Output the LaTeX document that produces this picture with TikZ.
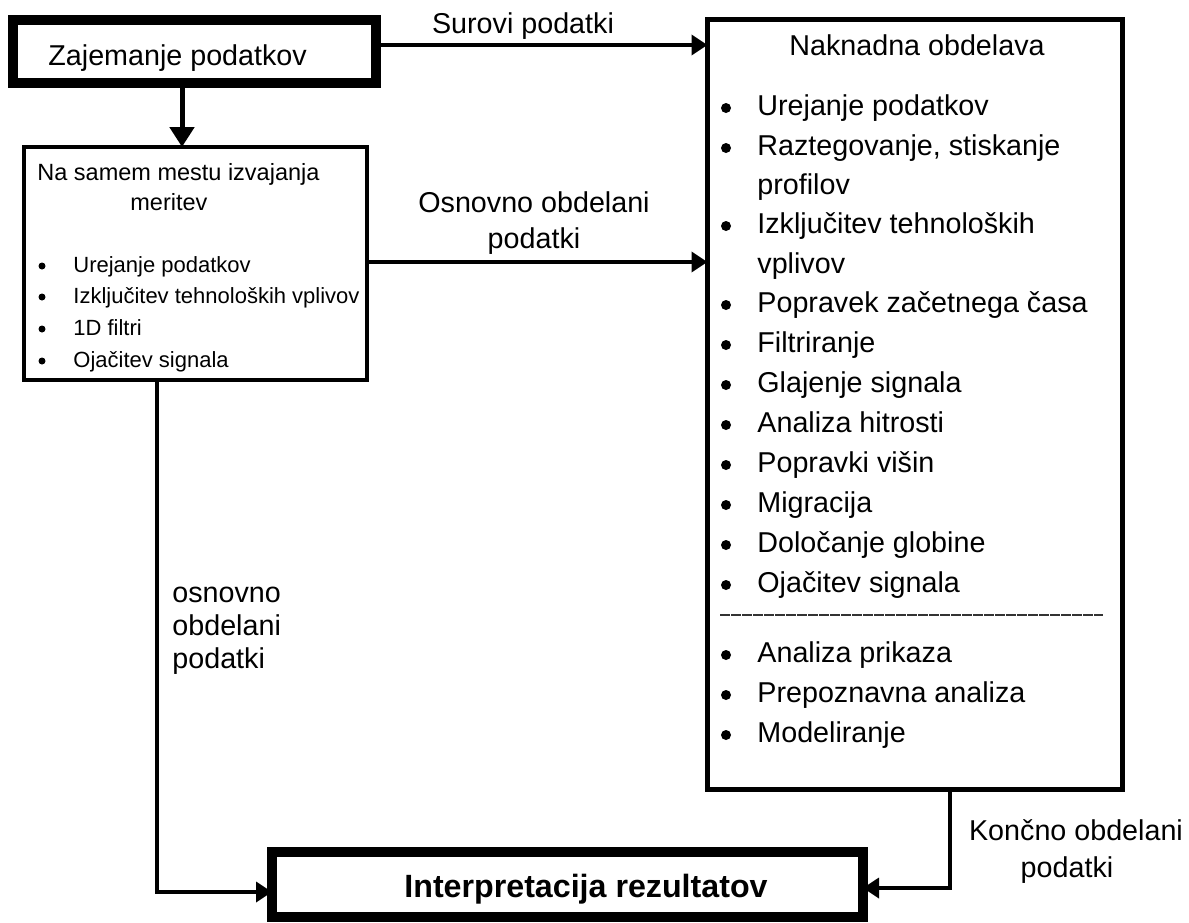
\documentclass[tikz,border=0pt]{standalone}
\usepackage{fontspec}
\setmainfont{Liberation Sans}
\usetikzlibrary{arrows.meta}
\begin{document}
\begin{tikzpicture}[x=0.5pt,y=-0.5pt,
  box/.style={draw, rectangle, inner sep=0pt, outer sep=0pt},
  txt/.style={inner sep=0pt, anchor=base west, font=\fontsize{14.35pt}{17pt}\selectfont},
  ctxt/.style={txt, anchor=base},
  small/.style={inner sep=0pt, anchor=base west, font=\fontsize{11pt}{13pt}\selectfont},
  head/.style={inner sep=0pt, anchor=base west, font=\fontsize{11.75pt}{14pt}\selectfont},
  boldtxt/.style={inner sep=0pt, anchor=base, font=\fontsize{16.1pt}{19pt}\selectfont\bfseries},
  arr/.style={line width=1.8pt, -{Triangle[length=8pt,width=10pt]}},
  bigarr/.style={line width=2.5pt, -{Triangle[length=10pt,width=12pt]}}
]
\useasboundingbox (0,0) rectangle (1189,922);
\fill[white] (0,0) rectangle (1189,922);

% boxes
\node[box, line width=5pt, minimum width=181.5pt, minimum height=31.5pt] (A) at (194.5,51.5) {};
\node[box, line width=2pt, minimum width=171.5pt, minimum height=116.5pt] (B) at (195.5,263.5) {};
\node[box, line width=2.5pt, minimum width=207.5pt, minimum height=385pt] (C) at (915,404.5) {};
\node[box, line width=5pt, minimum width=295.5pt, minimum height=32.5pt] (D) at (567.5,884.5) {};

% box texts
\node[txt] (ta) at (48,65) {Zajemanje podatkov};
\node[boldtxt] (td) at (586,897) {Interpretacija rezultatov};

\node[head] (tb1) at (37,180) {Na samem mestu izvajanja};
\node[head] (tb2) at (130,210) {meritev};
\foreach \y/\t [count=\i] in {272/Urejanje podatkov, 303/Izključitev tehnoloških vplivov, 335/1D filtri, 367/Ojačitev signala}{
  \fill (42,\y-6) circle[radius=1.75pt];
  \node[small] (bi\i) at (73,\y) {\t};
}

\node[ctxt] (tc) at (917,55) {Naknadna obdelava};
\foreach \y/\t [count=\i] in {115/Urejanje podatkov, 155/{Raztegovanje, stiskanje}, 233/Izključitev tehnoloških, 312/Popravek začetnega časa, 352/Filtriranje, 392/Glajenje signala, 432/Analiza hitrosti, 472/Popravki višin, 512/Migracija, 552/Določanje globine, 592/Ojačitev signala, 662/Analiza prikaza, 702/Prepoznavna analiza, 742/Modeliranje}{
  \fill (726,\y-7) circle[radius=2.5pt];
  \node[txt] (ci\i) at (757,\y) {\t};
}
\node[txt] (ci2b) at (757,194) {profilov};
\node[txt] (ci3b) at (757,273) {vplivov};
\coordinate (s1) at (720,615);
\coordinate (s2) at (1103,615);
\draw[line width=0.8pt, color=black!80, dash pattern=on 5pt off 0.5pt] (s1) -- (s2);

% connector labels
\node[ctxt] (l1) at (523,33) {Surovi podatki};
\node[ctxt] (l2a) at (534,212) {Osnovno obdelani};
\node[ctxt] (l2b) at (534,248) {podatki};
\node[txt] (l3a) at (172,602) {osnovno};
\node[txt] (l3b) at (172,635) {obdelani};
\node[txt] (l3c) at (172,668) {podatki};
\node[ctxt] (l4a) at (1076,840) {Končno obdelani};
\node[ctxt] (l4b) at (1067,877) {podatki};

% connectors
\coordinate (xa) at (182,0);
\draw[bigarr] (A.south -| xa) -- (B.north -| xa);
\coordinate (ys) at (0,45);
\draw[arr] (ys -| A.east) -- (ys -| C.west);
\coordinate (yo) at (0,262);
\draw[arr] (yo -| B.east) -- (yo -| C.west);
\coordinate (xl) at (157,0);
\coordinate (yl) at (0,892);
\draw[arr] (B.south -| xl) -- (xl |- yl) -- (yl -| D.west);
\coordinate (xr) at (950,0);
\coordinate (yr) at (0,888);
\draw[arr] (C.south -| xr) -- (xr |- yr) -- (yr -| D.east);
\end{tikzpicture}
\end{document}
